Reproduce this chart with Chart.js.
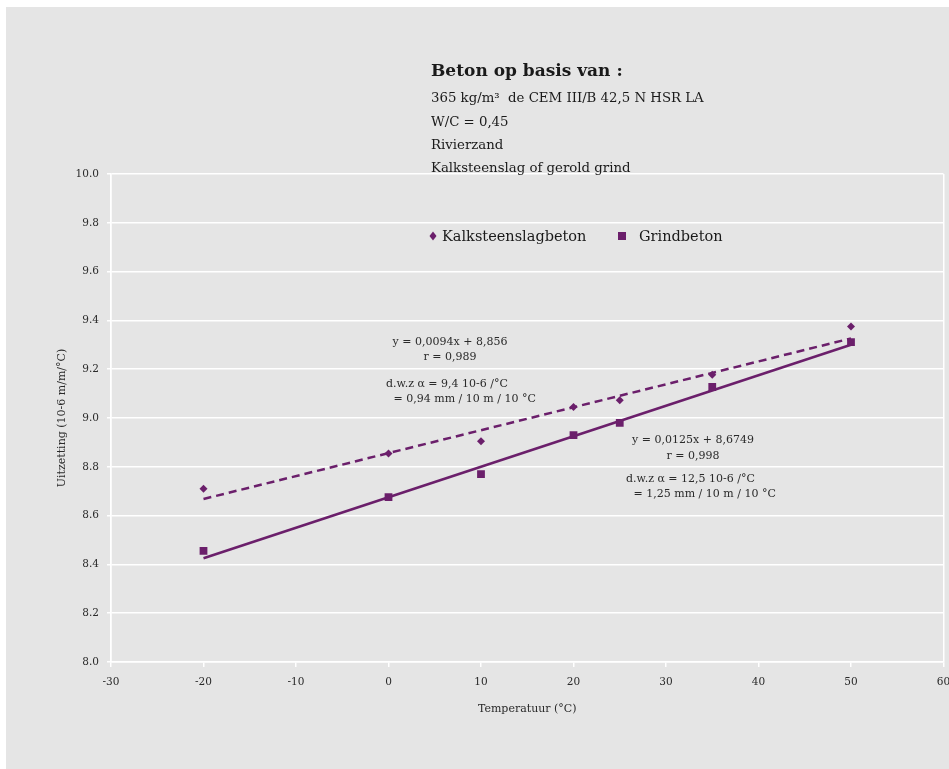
<!DOCTYPE html>
<html>
<head>
<meta charset="utf-8">
<script src="https://cdn.jsdelivr.net/npm/chart.js@4"></script>
<style>
  body { margin: 0; background: #ffffff; }
</style>
</head>
<body>
<canvas id="uitzetting" width="949" height="769"></canvas>
<script>
// temperatuur (°C) en gemeten uitzetting (10-6 m/m/°C)
var temperatures = [-20, 0, 10, 20, 25, 35, 50];
var kalksteenValues = [8.71, 8.855, 8.905, 9.045, 9.073, 9.177, 9.375];
var grindValues = [8.455, 8.676, 8.77, 8.93, 8.98, 9.127, 9.311];

// trendlijnen (eindpunten)
var trendX = [-20, 50];
var kalksteenTrend = [8.668, 9.326];
var grindTrend = [8.425, 9.3];

var seriesNames = ["Kalksteenslagbeton", "Grindbeton"];
var infoLines = [
  "365 kg/m³  de CEM III/B 42,5 N HSR LA",
  "W/C = 0,45",
  "Rivierzand",
  "Kalksteenslag of gerold grind"
];

const purple = "#6b1f6b";
const textFont = "'DejaVu Serif', serif";

function toPoints(xs, ys) {
  return xs.map((x, i) => ({ x: x, y: ys[i] }));
}

const panelPlugin = {
  id: "panel",
  beforeDraw(chart) {
    const ctx = chart.ctx;
    ctx.save();
    ctx.fillStyle = "#ffffff";
    ctx.fillRect(0, 0, chart.width, chart.height);
    ctx.fillStyle = "#e5e5e5";
    ctx.fillRect(6, 7, chart.width - 6, chart.height - 7);
    ctx.restore();
  },
  afterDraw(chart) {
    const ctx = chart.ctx;
    ctx.save();
    ctx.textBaseline = "middle";
    ctx.textAlign = "left";

    // kader met betonsamenstelling
    ctx.fillStyle = "#1a1a1a";
    ctx.font = "bold 17px " + textFont;
    ctx.fillText("Beton op basis van :", 431, 72);
    ctx.font = "13.3px " + textFont;
    infoLines.forEach((line, i) => {
      ctx.fillText(line, 431, 99 + i * 23.3);
    });

    // legenda
    ctx.fillStyle = purple;
    ctx.beginPath();
    ctx.moveTo(433, 231.5);
    ctx.lineTo(436.5, 236);
    ctx.lineTo(433, 240.5);
    ctx.lineTo(429.5, 236);
    ctx.closePath();
    ctx.fill();
    ctx.fillRect(618, 232, 8, 8);
    ctx.fillStyle = "#1a1a1a";
    ctx.font = "14.5px " + textFont;
    ctx.fillText(seriesNames[0], 442, 237);
    ctx.fillText(seriesNames[1], 639, 237);

    // vergelijkingen
    ctx.fillStyle = "#2a2a2a";
    ctx.font = "11px " + textFont;
    ctx.textAlign = "center";
    ctx.fillText("y = 0,0094x + 8,856", 450, 342);
    ctx.fillText("r = 0,989", 450, 357);
    ctx.fillText("y = 0,0125x + 8,6749", 693, 440);
    ctx.fillText("r = 0,998", 693, 456);
    ctx.textAlign = "left";
    ctx.fillText("d.w.z α = 9,4 10-6 /°C", 386, 384);
    ctx.fillText(" = 0,94 mm / 10 m / 10 °C", 390, 399);
    ctx.fillText("d.w.z α = 12,5 10-6 /°C", 626, 479);
    ctx.fillText(" = 1,25 mm / 10 m / 10 °C", 630, 494);
    ctx.restore();
  }
};

const config_uitzetting = {
  type: "scatter",
  data: {
    datasets: [
      {
        label: seriesNames[0],
        data: toPoints(temperatures, kalksteenValues),
        pointStyle: "rectRot",
        pointRadius: 4,
        backgroundColor: purple,
        borderColor: purple,
        borderWidth: 0,
      },
      {
        label: seriesNames[1],
        data: toPoints(temperatures, grindValues),
        pointStyle: "rect",
        pointRadius: 5.5,
        backgroundColor: purple,
        borderColor: purple,
        borderWidth: 0,
      },
      {
        label: "trend kalksteen",
        data: toPoints(trendX, kalksteenTrend),
        showLine: true,
        pointRadius: 0,
        borderColor: purple,
        borderWidth: 2.5,
        borderDash: [8, 5],
      },
      {
        label: "trend grind",
        data: toPoints(trendX, grindTrend),
        showLine: true,
        pointRadius: 0,
        borderColor: purple,
        borderWidth: 2.5,
      },
    ],
  },
  options: {
    responsive: false,
    animation: false,
    layout: {
      padding: { top: 174, right: 4, bottom: 0, left: 0 },
    },
    scales: {
      x: {
        type: "linear",
        min: -30,
        max: 60,
        ticks: {
          stepSize: 10,
          padding: 9,
          color: "#2a2a2a",
          font: { family: textFont, size: 10.5 },
        },
        grid: {
          color: (c) => (c.tick && (c.tick.value === 60 || c.tick.value === -30) ? "#ffffff" : "rgba(0,0,0,0)"),
          tickColor: "#ffffff",
          tickLength: 5,
          lineWidth: 1.5,
        },
        border: { color: "#ffffff", width: 1.5 },
        title: {
          display: true,
          text: "Temperatuur (°C)",
          color: "#2a2a2a",
          font: { family: textFont, size: 11 },
          padding: { top: 0, bottom: 53 },
        },
        afterFit: (scale) => {
          scale.height = 107;
          scale.paddingLeft = 0;
          scale.paddingRight = 0;
        },
      },
      y: {
        min: 8.0,
        max: 10.0,
        ticks: {
          stepSize: 0.2,
          padding: 8,
          color: "#2a2a2a",
          font: { family: textFont, size: 10.5 },
          callback: (v) => v.toFixed(1),
        },
        grid: {
          color: "#ffffff",
          tickColor: "#ffffff",
          tickLength: 4,
          lineWidth: 1.5,
        },
        border: { color: "#ffffff", width: 1.5 },
        title: {
          display: true,
          text: "Uitzetting (10-6 m/m/°C)",
          color: "#2a2a2a",
          font: { family: textFont, size: 11 },
          padding: { top: 56, bottom: 0 },
        },
        afterFit: (scale) => {
          scale.width = 111;
          scale.paddingTop = 0;
          scale.paddingBottom = 0;
        },
      },
    },
    plugins: {
      legend: { display: false },
      tooltip: { enabled: false },
    },
  },
  plugins: [panelPlugin],
};

const uitzetting = new Chart(document.getElementById("uitzetting"), config_uitzetting);
</script>
</body>
</html>
